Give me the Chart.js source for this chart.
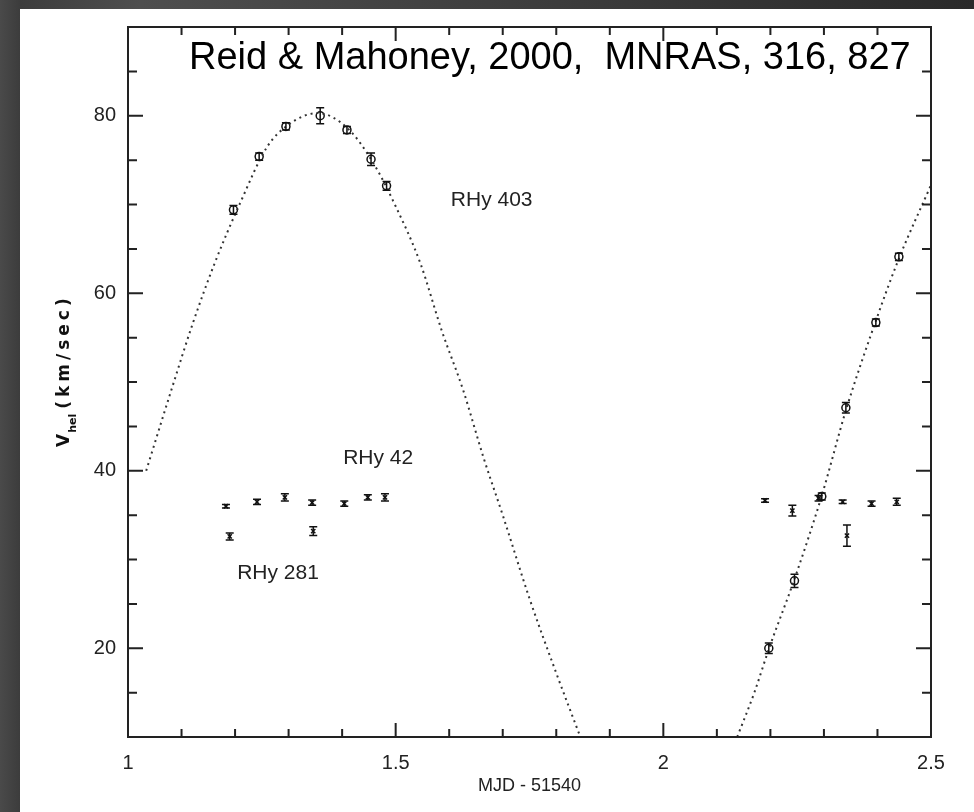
<!DOCTYPE html>
<html>
<head>
<meta charset="utf-8">
<script src="https://cdn.jsdelivr.net/npm/chart.js@4.4.0/dist/chart.umd.min.js"></script>
<style>
html, body { margin: 0; padding: 0; }
body {
  width: 974px; height: 812px; overflow: hidden; position: relative;
  background: linear-gradient(to right, #4a4a4a 0, #3c3c3c 20px, #4e4e4e 140px, #2a2a2a 100%);
}
#panel { position: absolute; left: 20px; top: 9px; right: 0; bottom: 0; background: #fff; }
#wrap { position: absolute; left: 0; top: 0; width: 974px; height: 812px; }
</style>
</head>
<body>
<div id="panel"></div>
<div id="wrap"><canvas id="rvChart"></canvas></div>
<script>
const xTickLabels = [1, 1.5, 2, 2.5];
const yTickLabels = [20, 40, 60, 80];

// RHy 403 (open circles)
const rhy403X   = [1.197, 1.245, 1.295, 1.359, 1.409, 1.454, 1.483, 2.197, 2.245, 2.296, 2.341, 2.397, 2.440];
const rhy403V   = [69.4, 75.4, 78.8, 80.0, 78.4, 75.1, 72.1, 20.0, 27.6, 37.1, 47.1, 56.7, 64.1];
const rhy403Err = [0.5, 0.4, 0.4, 0.9, 0.4, 0.7, 0.5, 0.6, 0.75, 0.4, 0.6, 0.4, 0.4];

// RHy 42
const rhy42X   = [1.183, 1.241, 1.293, 1.344, 1.404, 1.448, 1.480, 2.190, 2.290, 2.335, 2.389, 2.436];
const rhy42V   = [36.0, 36.5, 37.0, 36.4, 36.3, 37.0, 37.0, 36.65, 36.9, 36.5, 36.3, 36.5];
const rhy42Err = [0.2, 0.3, 0.4, 0.3, 0.3, 0.3, 0.4, 0.2, 0.3, 0.2, 0.3, 0.4];

// RHy 281
const rhy281X   = [1.190, 1.346, 2.241, 2.343];
const rhy281V   = [32.6, 33.2, 35.5, 32.7];
const rhy281Err = [0.4, 0.5, 0.6, 1.2];

// dotted fit curve, null splits the two arcs
const fitX = [1.034, 1.081, 1.121, 1.162, 1.209, 1.26, 1.30, 1.354, 1.41, 1.46, 1.50, 1.546, 1.586, 1.626, 1.664, 1.70, 1.75, 1.80, 1.845,
              1.99,
              2.138, 2.17, 2.197, 2.245, 2.296, 2.341, 2.397, 2.44, 2.5];
const fitV = [40.0, 49.1, 56.6, 63.4, 70.1, 76.5, 79.0, 80.3, 78.6, 74.5, 69.8, 63.4, 55.8, 49.1, 41.5, 35.0, 25.6, 17.2, 10.0,
              null,
              10.0, 15.0, 19.9, 27.8, 37.2, 46.8, 56.9, 63.9, 72.2];

const notes = [
  { text: 'Reid & Mahoney, 2000,  MNRAS, 316, 827', x: 1.114, v: 85.3, font: '38px "Liberation Sans"', color: '#000' },
  { text: 'RHy 403', x: 1.603, v: 69.8, font: '21px "Liberation Sans"', color: '#222' },
  { text: 'RHy 42',  x: 1.402, v: 40.8, font: '21px "Liberation Sans"', color: '#222' },
  { text: 'RHy 281', x: 1.204, v: 27.8, font: '21px "Liberation Sans"', color: '#222' }
];

const xMinorStep = 0.1, yMinorStep = 5;

function pts(xs, vs) { return xs.map((x, i) => ({ x: x, y: vs[i] })); }

const framePlugin = {
  id: 'frame',
  afterDatasetsDraw(chart) {
    const { ctx, scales: { x, y } } = chart;
    chart.data.datasets.forEach(ds => {
      if (!ds.err) return;
      ctx.save();
      ctx.strokeStyle = '#111';
      ctx.lineWidth = 1.5;
      ds.data.forEach((p, j) => {
        const px = x.getPixelForValue(p.x);
        const y1 = y.getPixelForValue(p.y - ds.err[j]);
        const y2 = y.getPixelForValue(p.y + ds.err[j]);
        ctx.beginPath();
        ctx.moveTo(px, y1); ctx.lineTo(px, y2);
        ctx.moveTo(px - 4, y1); ctx.lineTo(px + 4, y1);
        ctx.moveTo(px - 4, y2); ctx.lineTo(px + 4, y2);
        ctx.stroke();
      });
      ctx.restore();
    });
  },
  afterDraw(chart) {
    const { ctx, chartArea: a, scales: { x, y } } = chart;
    ctx.save();
    ctx.strokeStyle = '#222';
    ctx.lineWidth = 2;
    ctx.strokeRect(a.left, a.top, a.right - a.left, a.bottom - a.top);

    // inward ticks on all four sides
    ctx.beginPath();
    for (let v = x.min; v <= x.max + 1e-9; v += xMinorStep) {
      const px = x.getPixelForValue(v);
      const major = xTickLabels.some(t => Math.abs(t - v) < 1e-6);
      const len = major ? 14 : 8;
      ctx.moveTo(px, a.bottom); ctx.lineTo(px, a.bottom - len);
      ctx.moveTo(px, a.top); ctx.lineTo(px, a.top + len);
    }
    for (let v = y.min; v <= y.max + 1e-9; v += yMinorStep) {
      const py = y.getPixelForValue(v);
      const major = yTickLabels.some(t => Math.abs(t - v) < 1e-6);
      const len = major ? 15 : 9;
      ctx.moveTo(a.left, py); ctx.lineTo(a.left + len, py);
      ctx.moveTo(a.right, py); ctx.lineTo(a.right - len, py);
    }
    ctx.stroke();

    // text notes
    ctx.textBaseline = 'alphabetic';
    ctx.textAlign = 'left';
    notes.forEach(n => {
      ctx.font = n.font;
      ctx.fillStyle = n.color;
      ctx.fillText(n.text, x.getPixelForValue(n.x), y.getPixelForValue(n.v));
    });

    // x axis title
    ctx.font = '18px "Liberation Sans"';
    ctx.fillStyle = '#222';
    ctx.textAlign = 'center';
    ctx.fillText('MJD - 51540', (a.left + a.right) / 2, 791);

    // y axis title with subscript
    ctx.translate(69, 447);
    ctx.rotate(-Math.PI / 2);
    ctx.textAlign = 'left';
    ctx.fillStyle = '#111';
    ctx.font = 'bold 17px "DejaVu Sans"';
    ctx.fillText('V', 0, 0);
    let off = ctx.measureText('V').width + 1;
    ctx.font = 'bold 11px "DejaVu Sans"';
    ctx.fillText('hel', off, 7);
    off += ctx.measureText('hel').width + 5;
    ctx.font = 'bold 17px "DejaVu Sans"';
    ctx.letterSpacing = '4px';
    ctx.fillText('(km/sec)', off, 0);
    ctx.restore();
  }
};

const ctx = document.getElementById('rvChart').getContext('2d');

const rvChart = new Chart(ctx, {
  type: 'scatter',
  data: {
    datasets: [
      {
        label: 'fit',
        type: 'line',
        data: pts(fitX, fitV),
        showLine: true,
        spanGaps: false,
        pointRadius: 0,
        borderColor: '#333',
        borderWidth: 2,
        borderDash: [2, 4],
        cubicInterpolationMode: 'monotone',
        fill: false
      },
      {
        label: 'RHy 403',
        data: pts(rhy403X, rhy403V),
        err: rhy403Err,
        pointStyle: 'circle',
        pointRadius: 4,
        borderWidth: 1.5,
        borderColor: '#111',
        backgroundColor: 'rgba(0,0,0,0)'
      },
      {
        label: 'RHy 42',
        data: pts(rhy42X, rhy42V),
        err: rhy42Err,
        pointStyle: 'crossRot',
        pointRadius: 3,
        borderWidth: 1.5,
        borderColor: '#111'
      },
      {
        label: 'RHy 281',
        data: pts(rhy281X, rhy281V),
        err: rhy281Err,
        pointStyle: 'crossRot',
        pointRadius: 3,
        borderWidth: 1.5,
        borderColor: '#111'
      }
    ]
  },
  options: {
    responsive: true,
    maintainAspectRatio: false,
    animation: false,
    layout: { padding: { top: 27, right: 43, left: 0, bottom: 0 } },
    plugins: { legend: { display: false }, tooltip: { enabled: false } },
    scales: {
      x: {
        type: 'linear', min: 1, max: 2.5,
        grid: { display: false, drawTicks: false },
        border: { display: false },
        afterBuildTicks: s => { s.ticks = xTickLabels.map(v => ({ value: v })); },
        afterFit: s => { s.height = 75; },
        ticks: {
          padding: 14,
          maxRotation: 0,
          color: '#222',
          font: { family: '"Liberation Sans"', size: 20 },
          callback: v => String(v)
        }
      },
      y: {
        type: 'linear', min: 10, max: 90,
        grid: { display: false, drawTicks: false },
        border: { display: false },
        afterBuildTicks: s => { s.ticks = yTickLabels.map(v => ({ value: v })); },
        afterFit: s => { s.width = 128; },
        ticks: {
          padding: 12,
          color: '#222',
          font: { family: '"Liberation Sans"', size: 20 },
          callback: v => String(v)
        }
      }
    }
  },
  plugins: [framePlugin]
});
</script>
</body>
</html>
